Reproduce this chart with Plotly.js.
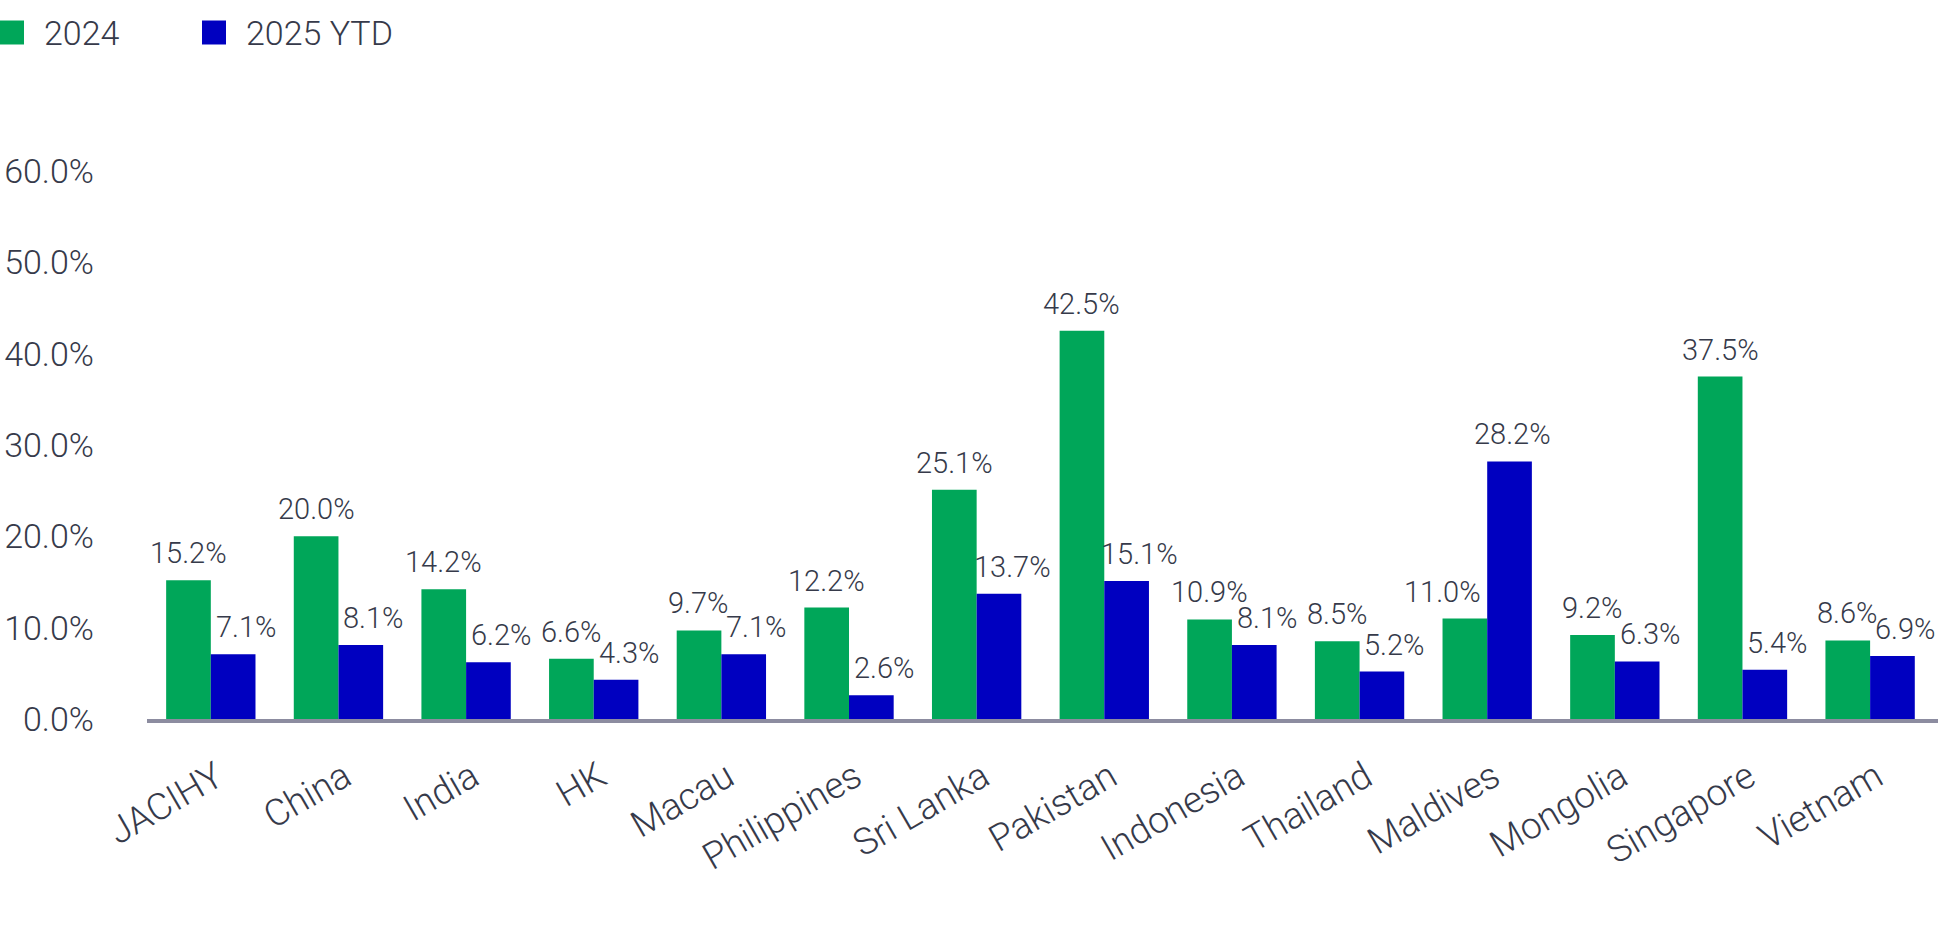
<!DOCTYPE html>
<html>
<head>
<meta charset="utf-8">
<script src="https://cdn.plot.ly/plotly-3.0.1.min.js"></script>
<style>
  html, body { margin: 0; padding: 0; background: #ffffff; }
  #chart { width: 1938px; height: 930px; }
</style>
</head>
<body>
<div id="chart"></div>
<script>
// ---- data ----
const categories = ['JACIHY', 'China', 'India', 'HK', 'Macau', 'Philippines', 'Sri Lanka',
  'Pakistan', 'Indonesia', 'Thailand', 'Maldives', 'Mongolia', 'Singapore', 'Vietnam'];
const values2024 = [15.2, 20.0, 14.2, 6.6, 9.7, 12.2, 25.1, 42.5, 10.9, 8.5, 11.0, 9.2, 37.5, 8.6];
const values2025 = [7.1, 8.1, 6.2, 4.3, 7.1, 2.6, 13.7, 15.1, 8.1, 5.2, 28.2, 6.3, 5.4, 6.9];
const seriesNames = ['2024', '2025 YTD'];
const yTickValues = [0, 10, 20, 30, 40, 50, 60];
const yTickLabels = ['0.0%', '10.0%', '20.0%', '30.0%', '40.0%', '50.0%', '60.0%'];

// ---- style ----
const W = 1938, H = 930;
const M = { l: 147, r: 0, t: 171, b: 211 };
const colors = ['#00A659', '#0000C0'];
const textColor = '#363a4a';
const FONT = 'Roboto, "Liberation Sans", sans-serif';
const BARGAP = 0.3;

const series = [values2024, values2025];

const traces = series.map((vals, t) => ({
  type: 'bar',
  name: seriesNames[t],
  x: categories,
  y: vals,
  marker: { color: colors[t], line: { width: 0 } },
  showlegend: false,
  hovertemplate: '%{x}: %{y:.1f}%<extra>' + seriesNames[t] + '</extra>'
}));

// data labels through the axis scales
const plotW = W - M.l - M.r;
const plotH = H - M.t - M.b;
const catW = plotW / categories.length;
const barW = catW * (1 - BARGAP) / series.length;
const annotations = [];
series.forEach((vals, t) => {
  vals.forEach((v, i) => {
    const other = series[1 - t][i];
    let nudge = 0;
    if (t === 0 && other > v) nudge = -22;
    if (t === 1) nudge = (v > other) ? 3 : 13;
    annotations.push({
      x: categories[i], y: v, xref: 'x', yref: 'y',
      text: v.toFixed(1) + '%',
      showarrow: false,
      xanchor: 'center', yanchor: 'bottom',
      xshift: (t - (series.length - 1) / 2) * barW + nudge,
      yshift: 8,
      font: { family: FONT, size: 29, color: textColor, weight: 300 }
    });
  });
});

// legend (drawn in paper space)
const px2x = px => (px - M.l) / plotW;
const py2y = py => (H - M.b - py) / plotH;
const legendX = [0, 202];
const shapes = [];
seriesNames.forEach((nm, t) => {
  shapes.push({
    type: 'rect', xref: 'paper', yref: 'paper',
    x0: px2x(legendX[t]), x1: px2x(legendX[t] + 24),
    y0: py2y(44.5), y1: py2y(20.5),
    fillcolor: colors[t], line: { width: 0 }
  });
  annotations.push({
    xref: 'paper', yref: 'paper',
    x: px2x(legendX[t] + 42), y: py2y(33),
    xanchor: 'left', yanchor: 'middle',
    text: nm, showarrow: false,
    font: { family: FONT, size: 34, color: textColor, weight: 300 }
  });
});

const layout = {
  width: W, height: H,
  margin: M,
  paper_bgcolor: '#ffffff',
  plot_bgcolor: '#ffffff',
  barmode: 'group',
  bargap: BARGAP,
  bargroupgap: 0,
  showlegend: false,
  font: { family: FONT, color: textColor, weight: 300 },
  xaxis: {
    type: 'category',
    showline: true, linecolor: '#8c8ca0', linewidth: 4,
    showgrid: false, zeroline: false, ticks: '',
    tickangle: -30,
    ticklabelstandoff: 18,
    ticklabelshift: 6,
    tickfont: { family: FONT, size: 37, color: textColor, weight: 300 }
  },
  yaxis: {
    range: [0, 60],
    tickvals: yTickValues, ticktext: yTickLabels,
    showline: false, showgrid: false, zeroline: false, ticks: '',
    ticklabelstandoff: 52,
    tickfont: { family: FONT, size: 34, color: textColor, weight: 300 }
  },
  shapes: shapes,
  annotations: annotations
};

Plotly.newPlot('chart', traces, layout, { displayModeBar: false, staticPlot: true });
</script>
</body>
</html>
